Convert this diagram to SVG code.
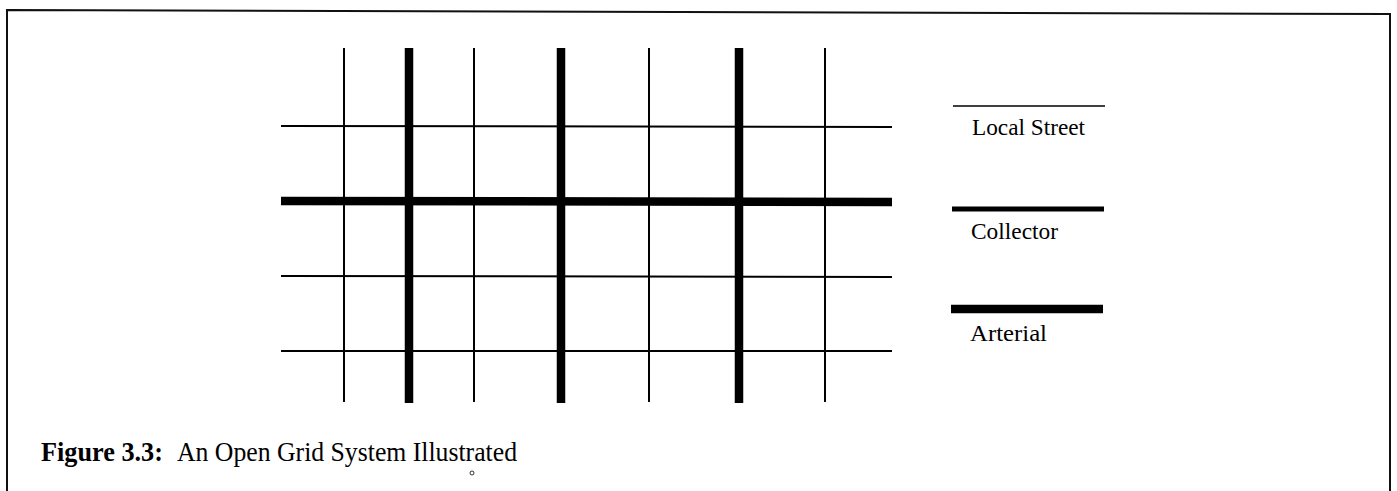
<svg xmlns="http://www.w3.org/2000/svg" width="1397" height="491" viewBox="0 0 1397 491">
<style>
.bg{fill:#ffffff}
.frame{stroke:#111;stroke-width:2;fill:none}
.local{stroke:#000;stroke-width:2;fill:none}
.collector{stroke:#000;stroke-width:5;fill:none}
.arterial{stroke:#000;stroke-width:8.5;fill:none}
.lbl{font-family:"Liberation Serif","Times New Roman",serif;font-size:23px;fill:#000}
.cap{font-family:"Liberation Serif","Times New Roman",serif;font-size:28px;fill:#000}
</style>
<rect class="bg" x="0" y="0" width="1397" height="491"/>
<g id="frame">
<polyline class="frame" points="7,491 7,10 1390,14 1390,491"/>
</g>
<g id="grid">
<g id="local-streets">
<line class="local" x1="281" y1="126" x2="892" y2="127"/>
<line class="local" x1="281" y1="276" x2="892" y2="277"/>
<line class="local" x1="281" y1="351" x2="892" y2="351"/>
<line class="local" x1="344" y1="48" x2="344" y2="402"/>
<line class="local" x1="474" y1="48" x2="474" y2="402"/>
<line class="local" x1="649" y1="48" x2="649" y2="402"/>
<line class="local" x1="825" y1="48" x2="825" y2="402"/>
</g>
<g id="major-streets">
<line class="arterial" x1="281" y1="201" x2="892" y2="202"/>
<line class="arterial" x1="409" y1="48" x2="409" y2="403"/>
<line class="arterial" x1="561" y1="48" x2="561" y2="403"/>
<line class="arterial" x1="739" y1="48" x2="739" y2="403"/>
</g>
</g>
<g id="legend-local">
<line class="local" x1="953" y1="106" x2="1105" y2="106" style="stroke-width:1.5"/>
<text class="lbl" x="972" y="135" textLength="113" lengthAdjust="spacingAndGlyphs">Local Street</text>
</g>
<g id="legend-collector">
<line class="collector" x1="952" y1="209" x2="1104" y2="209"/>
<text class="lbl" x="971" y="239" textLength="87" lengthAdjust="spacingAndGlyphs">Collector</text>
</g>
<g id="legend-arterial">
<line class="arterial" x1="951" y1="309" x2="1103" y2="309"/>
<text class="lbl" x="970" y="341" textLength="77" lengthAdjust="spacingAndGlyphs">Arterial</text>
</g>
<g id="caption">
<text class="cap" x="41" y="461" font-weight="bold" textLength="122" lengthAdjust="spacingAndGlyphs">Figure 3.3:</text>
<text class="cap" x="177" y="461" textLength="340" lengthAdjust="spacingAndGlyphs">An Open Grid System Illustrated</text>
</g>
<circle cx="472" cy="473" r="2" fill="none" stroke="#333" stroke-width="1"/>
</svg>
